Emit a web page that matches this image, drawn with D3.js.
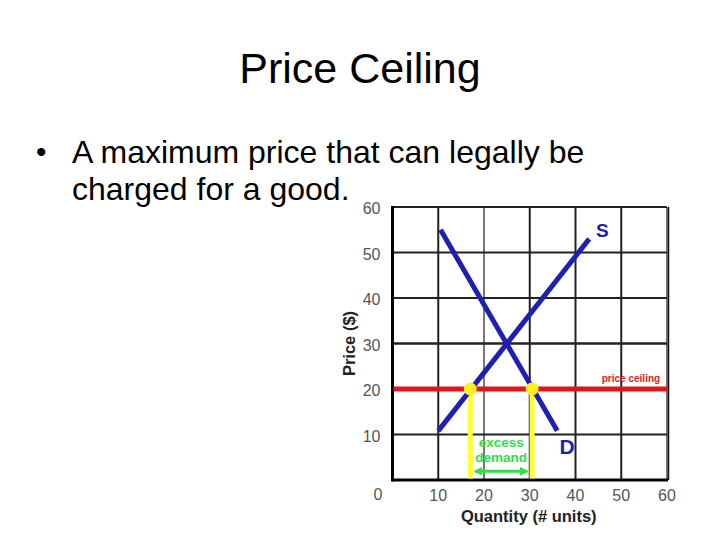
<!DOCTYPE html>
<html>
<head>
<meta charset="utf-8">
<script src="https://cdn.jsdelivr.net/npm/d3@7"></script>
<style>
  body { margin: 0; background: #fff; }
  text { font-family: "Liberation Sans", Arial, sans-serif; }
</style>
</head>
<body>
<div class="slide"></div>
<script>
// tick values on both axes
var ticks = [10, 20, 30, 40, 50, 60];

// curves (quantity, price)
var demand = [{q: 10.5, p: 55}, {q: 36, p: 10.8}];
var supply = [{q: 10, p: 10.8}, {q: 43, p: 53}];

// price ceiling and where it crosses the curves
var ceiling = 20;
var shortage = [{q: 17, p: 20}, {q: 30.5, p: 20}];

var svg = d3.select('.slide')
    .append('svg')
    .attr('width', 720)
    .attr('height', 540);

// title + bullet text
svg.append('text')
    .attr('x', 360).attr('y', 83)
    .attr('text-anchor', 'middle')
    .attr('font-size', 43)
    .text('Price Ceiling');

svg.append('text')
    .attr('x', 36).attr('y', 162)
    .attr('font-size', 30)
    .text('•');
svg.append('text')
    .attr('x', 72).attr('y', 163)
    .attr('font-size', 32)
    .text('A maximum price that can legally be');
svg.append('text')
    .attr('x', 72).attr('y', 200)
    .attr('font-size', 32)
    .text('charged for a good.');

// chart area
var plotL = 392.5, plotR = 667, plotT = 207, plotB = 480;

var x = d3.scaleLinear().domain([0, 60]).range([plotL, plotR]);
var y = d3.scaleLinear().domain([0, 60]).range([plotB, plotT]);

var g = svg.append('g');

// grid
g.selectAll('line.vgrid')
    .data(ticks)
    .enter()
    .append('line')
    .attr('class', 'vgrid')
    .attr('x1', function (d) { return x(d); })
    .attr('x2', function (d) { return x(d); })
    .attr('y1', y(0)).attr('y2', y(60))
    .attr('stroke', function (d) { return d == 20 || d == 60 ? '#777' : '#222'; })
    .attr('stroke-width', 2);

g.selectAll('line.hgrid')
    .data(ticks)
    .enter()
    .append('line')
    .attr('class', 'hgrid')
    .attr('x1', x(0)).attr('x2', x(60))
    .attr('y1', function (d) { return y(d); })
    .attr('y2', function (d) { return y(d); })
    .attr('stroke', '#222')
    .attr('stroke-width', function (d) { return d == 30 ? 2.5 : 2; });

// frame: left and bottom heavier
g.append('line').attr('x1', x(0)).attr('x2', x(0)).attr('y1', y(0) + 1.5).attr('y2', y(60) - 1)
    .attr('stroke', '#000').attr('stroke-width', 3);
g.append('line').attr('x1', x(0)).attr('x2', x(60) + 1).attr('y1', y(0)).attr('y2', y(0))
    .attr('stroke', '#000').attr('stroke-width', 3);
g.append('line').attr('x1', x(60) + 1.5).attr('x2', x(60) + 1.5).attr('y1', y(0)).attr('y2', y(60))
    .attr('stroke', '#111').attr('stroke-width', 1.5);

// tick labels
g.selectAll('text.ylab')
    .data(ticks)
    .enter()
    .append('text')
    .attr('class', 'ylab')
    .attr('x', x(0) - 12)
    .attr('y', function (d) { return y(d) + 7; })
    .attr('text-anchor', 'end')
    .attr('font-size', 16)
    .attr('fill', '#555')
    .text(function (d) { return d; });

g.selectAll('text.xlab')
    .data(ticks)
    .enter()
    .append('text')
    .attr('class', 'xlab')
    .attr('x', function (d) { return x(d); })
    .attr('y', y(0) + 20.5)
    .attr('text-anchor', 'middle')
    .attr('font-size', 16)
    .attr('fill', '#555')
    .text(function (d) { return d; });

g.append('text')
    .attr('x', x(0) - 14.5).attr('y', y(0) + 20)
    .attr('text-anchor', 'middle')
    .attr('font-size', 16)
    .attr('fill', '#555')
    .text('0');

// axis titles
g.append('text')
    .attr('transform', 'translate(355,' + y(30) + ') rotate(-90)')
    .attr('text-anchor', 'middle')
    .attr('font-size', 16.5)
    .attr('font-weight', 'bold')
    .attr('fill', '#222')
    .text('Price ($)');
g.append('text')
    .attr('x', x(30) - 1).attr('y', 521.5)
    .attr('text-anchor', 'middle')
    .attr('font-size', 16.5)
    .attr('font-weight', 'bold')
    .attr('fill', '#222')
    .text('Quantity (# units)');

// yellow drop lines
g.selectAll('line.drop')
    .data(shortage)
    .enter()
    .append('line')
    .attr('class', 'drop')
    .attr('x1', function (d) { return x(d.q); })
    .attr('x2', function (d) { return x(d.q); })
    .attr('y1', function (d) { return y(d.p); })
    .attr('y2', y(0) - 1.5)
    .attr('stroke', '#ffff33')
    .attr('stroke-width', 5);

// price ceiling
g.append('line')
    .attr('x1', x(0) + 1).attr('x2', x(60))
    .attr('y1', y(ceiling)).attr('y2', y(ceiling))
    .attr('stroke', '#e0141a')
    .attr('stroke-width', 5);

g.append('text')
    .attr('x', x(58.5)).attr('y', y(ceiling) - 7)
    .attr('text-anchor', 'end')
    .attr('font-size', 10)
    .attr('font-weight', 'bold')
    .attr('fill', '#dd2222')
    .text('price ceiling');

// supply and demand
var line = d3.line()
    .x(function (d) { return x(d.q); })
    .y(function (d) { return y(d.p); });

[demand, supply].forEach(function (c) {
    g.append('path')
        .attr('d', line(c))
        .attr('fill', 'none')
        .attr('stroke', '#1f1fb0')
        .attr('stroke-width', 5);
});

g.selectAll('circle.hit')
    .data(shortage)
    .enter()
    .append('circle')
    .attr('class', 'hit')
    .attr('cx', function (d) { return x(d.q); })
    .attr('cy', function (d) { return y(d.p); })
    .attr('r', 6.5)
    .attr('fill', '#ffee22');

g.append('text')
    .attr('x', x(44.5)).attr('y', y(53.5))
    .attr('font-size', 19)
    .attr('font-weight', 'bold')
    .attr('fill', '#1f1fb0')
    .text('S');
g.append('text')
    .attr('x', x(36.5)).attr('y', y(5.7))
    .attr('font-size', 21)
    .attr('font-weight', 'bold')
    .attr('fill', '#1f1fb0')
    .text('D');

// excess demand
var mid = (shortage[0].q + shortage[1].q) / 2;
g.append('text')
    .attr('x', x(mid)).attr('y', y(7.2))
    .attr('text-anchor', 'middle')
    .attr('font-size', 13.5)
    .attr('font-weight', 'bold')
    .attr('fill', '#33dd44')
    .text('excess');
g.append('text')
    .attr('x', x(mid)).attr('y', y(3.9))
    .attr('text-anchor', 'middle')
    .attr('font-size', 13.5)
    .attr('font-weight', 'bold')
    .attr('fill', '#33dd44')
    .text('demand');

svg.append('defs').append('marker')
    .attr('id', 'ah')
    .attr('viewBox', '0 0 10 10')
    .attr('refX', 8).attr('refY', 5)
    .attr('markerWidth', 3).attr('markerHeight', 3)
    .attr('orient', 'auto-start-reverse')
    .append('path')
    .attr('d', 'M0,0L10,5L0,10z')
    .attr('fill', '#33dd44');

g.append('line')
    .attr('x1', x(shortage[0].q) + 5).attr('x2', x(shortage[1].q) - 5)
    .attr('y1', y(1.9)).attr('y2', y(1.9))
    .attr('stroke', '#33dd44')
    .attr('stroke-width', 3)
    .attr('marker-start', 'url(#ah)')
    .attr('marker-end', 'url(#ah)');
</script>
</body>
</html>
